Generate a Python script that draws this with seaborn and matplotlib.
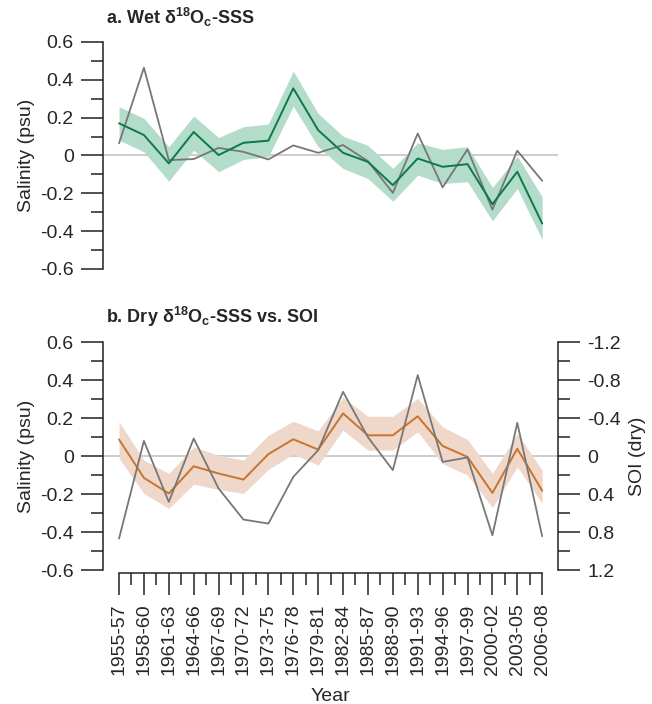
import numpy as np
import pandas as pd
import seaborn as sns
import matplotlib.pyplot as plt
from matplotlib.ticker import MultipleLocator, FixedLocator

# x categories (3-year bins)
periods = ['1955-57', '1958-60', '1961-63', '1964-66', '1967-69', '1970-72',
           '1973-75', '1976-78', '1979-81', '1982-84', '1985-87', '1988-90',
           '1991-93', '1994-96', '1997-99', '2000-02', '2003-05', '2006-08']

# a. wet season
wet_sss = [0.17, 0.108, -0.042, 0.124, 0.002, 0.067, 0.078, 0.355, 0.134,
           0.014, -0.034, -0.157, -0.016, -0.06, -0.046, -0.258, -0.086, -0.36]
wet_upper = [0.258, 0.196, 0.046, 0.208, 0.095, 0.152, 0.166, 0.446, 0.222,
             0.102, 0.053, -0.069, 0.067, 0.032, 0.046, -0.169, -0.004, -0.219]
wet_lower = [0.081, 0.019, -0.136, 0.028, -0.086, -0.021, -0.007, 0.261, 0.046,
             -0.069, -0.122, -0.242, -0.104, -0.148, -0.139, -0.346, -0.175, -0.445]
wet_gray = [0.064, 0.464, -0.025, -0.019, 0.04, 0.019, -0.021, 0.053, 0.014,
            0.055, -0.03, -0.198, 0.116, -0.169, 0.032, -0.286, 0.025, -0.134]

# b. dry season + SOI
dry_sss = [0.088, -0.114, -0.196, -0.053, -0.091, -0.123, 0.011, 0.089, 0.035,
           0.225, 0.11, 0.11, 0.21, 0.054, -0.004, -0.193, 0.039, -0.182]
dry_upper = [0.182, -0.021, -0.091, 0.049, 0.005, -0.021, 0.11, 0.184, 0.133,
             0.309, 0.21, 0.21, 0.304, 0.154, 0.088, -0.091, 0.119, -0.074]
dry_lower = [-0.012, -0.196, -0.275, -0.147, -0.175, -0.196, -0.07, 0.011, -0.047,
             0.137, 0.032, 0.032, 0.128, -0.039, -0.1, -0.27, -0.056, -0.249]
soi_dry = [0.867, -0.161, 0.481, -0.186, 0.34, 0.667, 0.709, 0.218, -0.063,
           -0.677, -0.2, 0.147, -0.853, 0.06, 0.014, 0.832, -0.351, 0.842]

idx = np.arange(len(periods))
df = pd.DataFrame({'i': idx, 'wet': wet_sss, 'wet_g': wet_gray,
                   'dry': dry_sss, 'soi': soi_dry})

sns.set_theme(style='ticks')
plt.rcParams['font.family'] = ['Liberation Sans', 'DejaVu Sans']
plt.rcParams['mathtext.default'] = 'regular'

green = '#0b7a45'
green_band = '#b3dccb'
orange = '#c8742f'
orange_band = '#efd8ca'
gray = '#777777'
zero_c = '#c4c4c4'
axc = '#222222'
fs = 14

fig = plt.figure(figsize=(6.52, 7.04), dpi=100)
ax1 = fig.add_axes([0.158, 0.618, 0.698, 0.3224])
ax2 = fig.add_axes([0.158, 0.190, 0.698, 0.324])
xlim = (-0.643, 17.64)


def style_left(ax):
    ax.set_xlim(*xlim)
    ax.set_ylim(-0.6, 0.6)
    for s in ['top', 'right', 'bottom']:
        ax.spines[s].set_visible(False)
    ax.spines['left'].set_color(axc)
    ax.spines['left'].set_linewidth(1.1)
    ax.set_yticks([-0.6, -0.4, -0.2, 0, 0.2, 0.4, 0.6])
    ax.set_yticklabels(['-0.6', '-0.4', '-0.2', '0', '0.2', '0.4', '0.6'])
    ax.yaxis.set_minor_locator(MultipleLocator(0.1))
    ax.tick_params(axis='y', which='major', length=16, width=1.1, color=axc,
                   labelsize=fs, pad=5)
    ax.tick_params(axis='y', which='minor', length=8.5, width=1.1, color=axc)
    ax.axhline(0, color=zero_c, lw=1.2, zorder=1)


# --- panel a
style_left(ax1)
ax1.fill_between(idx, wet_lower, wet_upper, color=green_band, lw=0, zorder=2)
sns.lineplot(data=df, x='i', y='wet_g', ax=ax1, color=gray, lw=1.3, zorder=3)
sns.lineplot(data=df, x='i', y='wet', ax=ax1, color=green, lw=1.4, zorder=4)
ax1.set_xticks([])
ax1.set_xlabel('')
ax1.set_ylabel('Salinity (psu)', fontsize=fs, labelpad=4)
ax1.text(0.007, 1.079, r'a. Wet δ$^{18}$O$_c$-SSS', transform=ax1.transAxes,
         fontsize=13, fontweight='bold', va='baseline', ha='left')

# --- panel b
style_left(ax2)
ax2.fill_between(idx, dry_lower, dry_upper, color=orange_band, lw=0, zorder=2)
sns.lineplot(data=df, x='i', y='dry', ax=ax2, color=orange, lw=1.4, zorder=4)
ax2.set_ylabel('Salinity (psu)', fontsize=fs, labelpad=4)

ax2.spines['bottom'].set_visible(True)
ax2.spines['bottom'].set_bounds(0, len(periods) - 1)
ax2.spines['bottom'].set_position(('outward', 2))
ax2.spines['bottom'].set_color(axc)
ax2.spines['bottom'].set_linewidth(1.1)
ax2.set_xticks(idx)
ax2.set_xticklabels(periods, rotation=90)
ax2.xaxis.set_minor_locator(FixedLocator(idx[:-1] + 0.5))
ax2.tick_params(axis='x', which='major', length=16, width=1.1, color=axc,
                labelsize=fs, pad=6)
ax2.tick_params(axis='x', which='minor', length=8.5, width=1.1, color=axc)
ax2.set_xlabel('Year', fontsize=fs, labelpad=9)
ax2.text(0.007, 1.083, r'b. Dry δ$^{18}$O$_c$-SSS vs. SOI', transform=ax2.transAxes,
         fontsize=13, fontweight='bold', va='baseline', ha='left')

ax3 = ax2.twinx()
ax3.set_xlim(*xlim)
ax3.set_ylim(1.2, -1.2)
sns.lineplot(data=df, x='i', y='soi', ax=ax3, color=gray, lw=1.3, zorder=3)
for s in ['top', 'left', 'bottom']:
    ax3.spines[s].set_visible(False)
ax3.spines['right'].set_color(axc)
ax3.spines['right'].set_linewidth(1.1)
ax3.set_yticks([-1.2, -0.8, -0.4, 0, 0.4, 0.8, 1.2])
ax3.set_yticklabels(['-1.2', '-0.8', '-0.4', '0', '0.4', '0.8', '1.2'])
ax3.yaxis.set_minor_locator(MultipleLocator(0.2))
ax3.tick_params(axis='y', which='major', length=16, width=1.1, color=axc,
                labelsize=fs, pad=5)
ax3.tick_params(axis='y', which='minor', length=8.5, width=1.1, color=axc)
ax3.set_ylabel('SOI (dry)', fontsize=fs, labelpad=6)
ax3.set_xlabel('')
ax3.patch.set_visible(False)

fig.savefig('out.png', dpi=100)
